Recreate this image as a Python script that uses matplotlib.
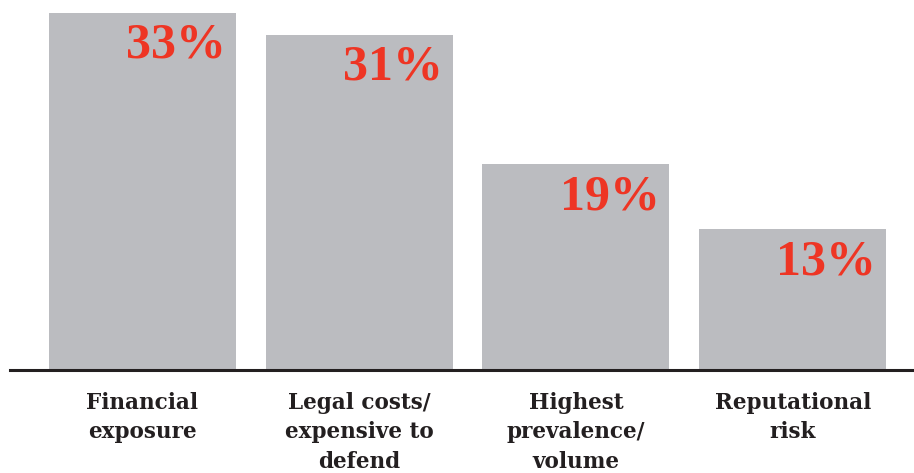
import matplotlib.pyplot as plt

categories = ["Financial\nexposure", "Legal costs/\nexpensive to\ndefend",
              "Highest\nprevalence/\nvolume", "Reputational\nrisk"]
values = [33, 31, 19, 13]

BAR_COLOR = "#bbbcc0"
LABEL_RED = "#ee3524"
TEXT_DARK = "#231f20"

fig = plt.figure(figsize=(9.14, 4.73), dpi=100)
ax = fig.add_axes([10 / 914, 1 - 370 / 473, 1 - 10 / 914, 370 / 473])

x = range(len(values))
bar_w = 0.863
ax.bar(x, values, width=bar_w, color=BAR_COLOR, zorder=2)

ax.set_xlim(-0.611, 3.56)
ax.set_ylim(0, 34.2)

# value labels tucked into the top-right corner of each bar
for xi, v in zip(x, values):
    ax.annotate(f"{v}%", xy=(xi + bar_w / 2, v), xytext=(-7, -7),
                textcoords="offset points", ha="right", va="top",
                fontsize=36, fontweight="bold", color=LABEL_RED,
                family="Liberation Serif")

ax.set_xticks(list(x))
ax.set_xticklabels(categories, fontsize=15.5, fontweight="bold",
                   family="DejaVu Serif", color=TEXT_DARK,
                   linespacing=1.42)
ax.tick_params(axis="x", length=0, pad=16)
ax.set_yticks([])

for side in ("top", "right", "left"):
    ax.spines[side].set_visible(False)
ax.spines["bottom"].set_linewidth(2.2)
ax.spines["bottom"].set_color(TEXT_DARK)
ax.spines["bottom"].set_zorder(3)

fig.savefig("out.png", dpi=100)
